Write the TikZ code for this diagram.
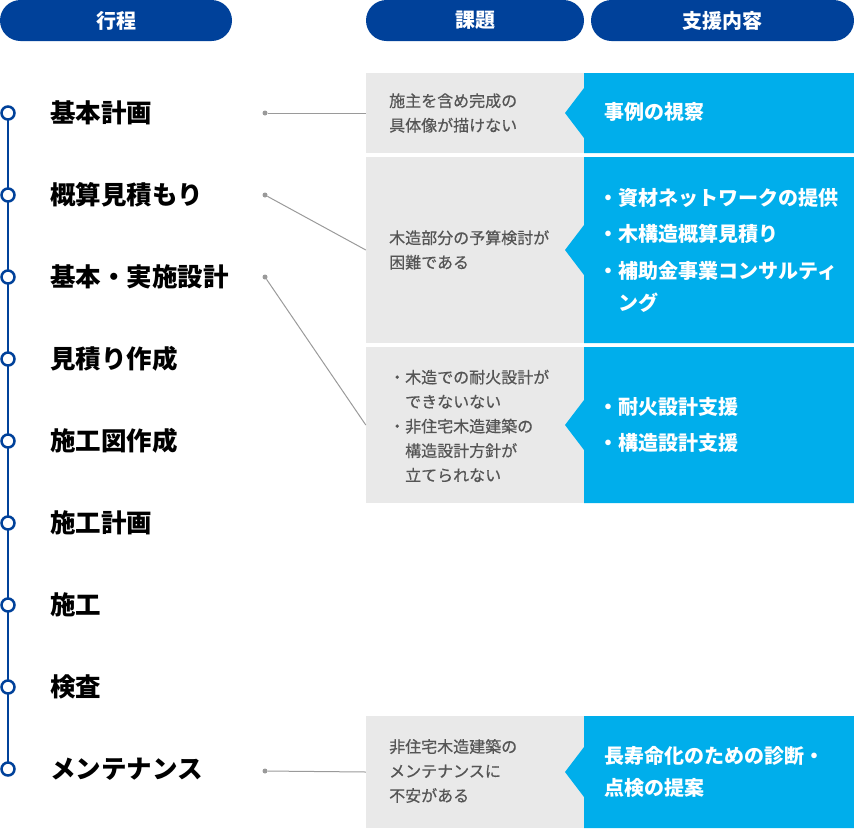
\documentclass[tikz,border=0pt]{standalone}
\usepackage{fontspec}
\setmainfont{Noto Sans CJK JP}
\newfontfamily\jpmedium[FakeBold=0.5]{Noto Sans CJK JP}
\usetikzlibrary{positioning}

\definecolor{hdblue}{HTML}{00419A}
\definecolor{skyblue}{HTML}{00AEEB}
\definecolor{boxgray}{HTML}{E9E9E9}
\definecolor{txtgray}{HTML}{555555}
\definecolor{linegray}{HTML}{9A9A9A}

\tikzset{
  pill/.style={fill=hdblue, rounded corners=20.5pt, minimum height=41pt, inner sep=0pt,
    text=white, font=\fontsize{20}{24}\selectfont\bfseries},
  stage/.style={circle, draw=hdblue, fill=white, line width=2.5pt, minimum size=13pt, inner sep=0pt},
  steplabel/.style={anchor=west, inner sep=0pt, font=\fontsize{25.5}{30}\selectfont\bfseries},
  issuebox/.style={fill=boxgray, minimum width=218pt, inner sep=0pt},
  issuetext/.style={anchor=west, align=left, inner sep=0pt, text=txtgray,
    font=\jpmedium\fontsize{16}{24.5}\selectfont},
  supporttext/.style={anchor=west, align=left, inner sep=0pt, text=white,
    font=\fontsize{20}{32}\selectfont\bfseries},
  conn/.style={draw=linegray, line width=1pt},
  pin/.style={circle, fill=linegray, minimum size=5pt, inner sep=0pt},
}

% blue support box with notch: top, bottom, middle
\newcommand{\supportbox}[3]{%
  \fill[skyblue] (584,#1) -- (854,#1) -- (854,#2) -- (584,#2) -- (584,#3+25)
    -- (565,#3) -- (584,#3-25) -- cycle;}

\begin{document}
\begin{tikzpicture}[x=1pt, y=-1pt]
\useasboundingbox (0,0) rectangle (854,828);

% headers
\node[pill, minimum width=232pt] (hstep) at (116,20.5) {行程};
\node[pill, minimum width=218pt] (hissue) at (475,20.5) {課題};
\node[pill, minimum width=263pt] (hsupport) at (722.5,20.5) {支援内容};

% issue boxes
\node[issuebox, minimum height=80pt] (g1) at (475,113) {};
\node[issuebox, minimum height=186pt] (g2) at (475,250) {};
\node[issuebox, minimum height=156pt] (g3) at (475,425) {};
\node[issuebox, minimum height=112pt] (g4) at (475,772) {};

% support boxes
\supportbox{73}{153}{113}
\supportbox{157}{343}{250}
\supportbox{347}{503}{425}
\supportbox{716}{828}{772}

% timeline
\coordinate (top) at (8,113);
\coordinate (bottom) at (8,769);
\draw[hdblue, line width=2.5pt] (top) -- (bottom);
\foreach \lbl [count=\i] in {基本計画,概算見積もり,基本・実施設計,見積り作成,施工図作成,施工計画,施工,検査,メンテナンス}{
  \node[stage] (s\i) at (8,{113+82*(\i-1)}) {};
  \node[steplabel] (l\i) at (50,{113+82*(\i-1)}) {\lbl};
}

% connectors
\node[pin] (p1) at (265,113) {};
\node[pin] (p2) at (265,195) {};
\node[pin] (p3) at (265,277) {};
\node[pin] (p9) at (265,771) {};
\draw[conn] (p1) -- (g1.west);
\draw[conn] (p2) -- (g2.west);
\draw[conn] (p3) -- (g3.west);
\draw[conn] (p9) -- (g4.west);

% issue texts
\node[issuetext] (i1) at (389,113) {施主を含め完成の\\具体像が描けない};
\node[issuetext] (i2) at (389,250) {木造部分の予算検討が\\困難である};
\node[issuetext] (i3) at (389,426) {・木造での耐火設計が\\\phantom{・}できないない\\・非住宅木造建築の\\\phantom{・}構造設計方針が\\\phantom{・}立てられない};
\node[issuetext] (i4) at (389,771) {非住宅木造建築の\\メンテナンスに\\不安がある};

% support texts
\node[supporttext] (a1) at (604,112) {事例の視察};
\node[supporttext] (a2) at (598,250) {・資材ネットワークの提供\\[4.5pt]・木構造概算見積り\\[4.5pt]・補助金事業コンサルティ\\\phantom{・}ング};
\node[supporttext] (a3) at (598,425) {・耐火設計支援\\[4pt]・構造設計支援};
\node[supporttext] (a4) at (604,772) {長寿命化のための診断・\\点検の提案};

\end{tikzpicture}
\end{document}
